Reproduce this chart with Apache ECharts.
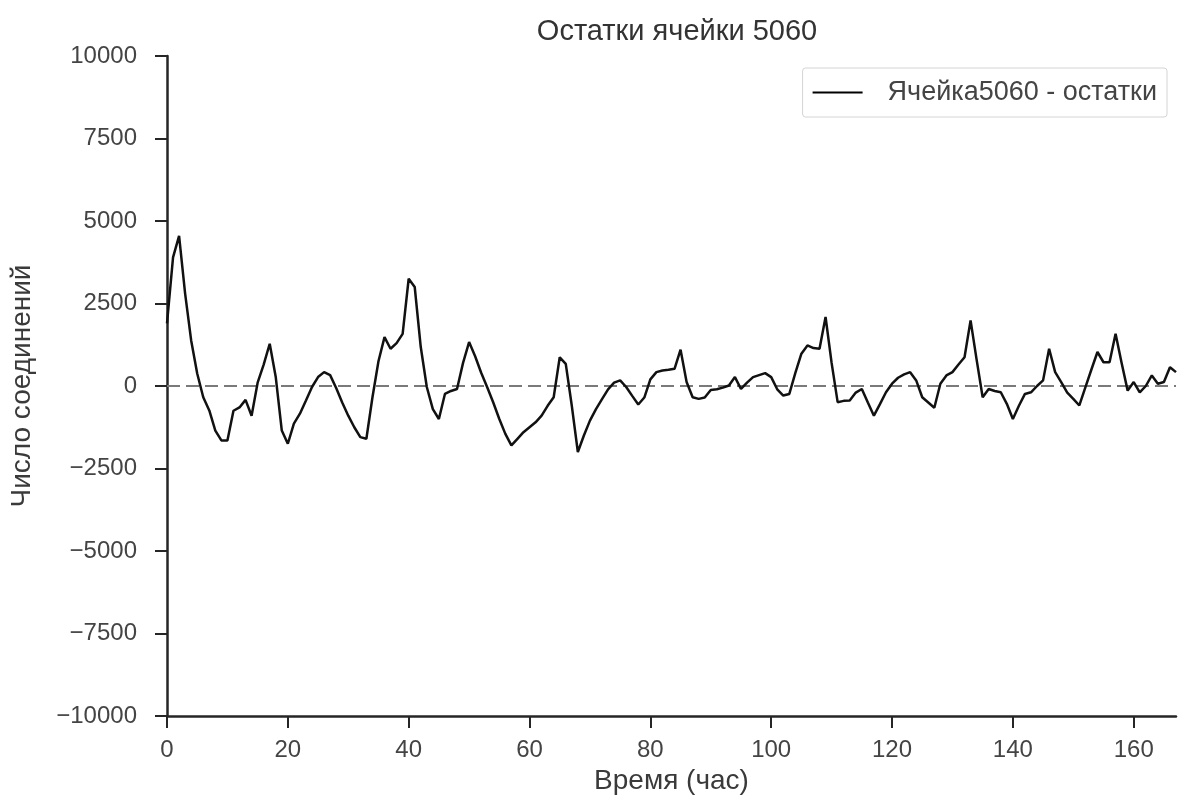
<!DOCTYPE html>
<html>
<head>
<meta charset="utf-8">
<script src="https://cdn.jsdelivr.net/npm/echarts@6/dist/echarts.min.js"></script>
<style>html,body{margin:0;padding:0;background:#fff;}#c{width:1184px;height:805px;}</style>
</head>
<body>
<div id="c"></div>
<script>
const titleText = 'Остатки ячейки 5060';
const seriesName = 'Ячейка5060 - остатки';
const xName = 'Время (час)';
const yName = 'Число соединений';
const xTicks = [0, 20, 40, 60, 80, 100, 120, 140, 160];
const yTicks = [-10000, -7500, -5000, -2500, 0, 2500, 5000, 7500, 10000];
// residuals per hour, 0..167
const residuals = [
  1900, 3900, 4550, 2800, 1380, 380, -340, -740, -1350, -1650,
  -1650, -750, -650, -420, -900, 100, 650, 1280, 270, -1350,
  -1750, -1140, -840, -440, -30, 270, 420, 330, -60, -500,
  -900, -1250, -1550, -1600, -350, 750, 1480, 1130, 1300, 1580,
  3250, 3000, 1180, -30, -700, -1000, -240, -150, -90, 700,
  1330, 900, 400, -40, -500, -1000, -1450, -1800, -1600, -1400,
  -1250, -1100, -900, -600, -340, 870, 670, -600, -2000, -1500,
  -1050, -700, -400, -100, 100, 170, -30, -300, -560, -350,
  200, 420, 470, 490, 520, 1100, 120, -340, -390, -350,
  -120, -100, -50, 15, 270, -90, 100, 270, 330, 390,
  270, -100, -290, -240, 400, 980, 1230, 1150, 1130, 2090,
  700, -490, -450, -440, -200, -90, -500, -900, -550, -190,
  70, 250, 350, 420, 170, -340, -500, -660, 70, 320,
  420, 650, 870, 1990, 800, -340, -90, -150, -190, -540,
  -1000, -600, -240, -190, 0, 170, 1130, 420, 120, -200,
  -390, -590, -40, 500, 1030, 720, 720, 1580, 700, -140,
  120, -190, 0, 320, 70, 120, 570, 420
];
const zeroLine = 0;

const axisColor = '#262626';
const labelColor = '#444444';
const fontFamily = '"Liberation Sans", Arial, sans-serif';

const chart = echarts.init(document.getElementById('c'), null, {renderer: 'canvas'});
chart.setOption({
  animation: false,
  backgroundColor: '#ffffff',
  title: {
    text: titleText,
    left: 672,
    textAlign: 'center',
    top: 12,
    textStyle: {fontFamily, fontSize: 29, fontWeight: 'normal', color: '#333'}
  },
  legend: {
    data: [{name: seriesName, icon: 'rect'}],
    right: 17,
    top: 68,
    orient: 'vertical',
    padding: [11, 10, 11, 10],
    itemWidth: 50,
    itemHeight: 2,
    borderColor: '#d4d4d4',
    borderWidth: 1,
    borderRadius: 3,
    textStyle: {fontFamily, fontSize: 27, color: '#444', padding: [0, 0, 0, 20]}
  },
  grid: {left: 167, right: 8, top: 56, bottom: 89, containLabel: false},
  xAxis: {
    type: 'value',
    min: 0,
    max: 167,
    interval: 20,
    name: xName,
    nameLocation: 'middle',
    nameGap: 40,
    nameTextStyle: {fontFamily, fontSize: 28, color: '#3a3a3a'},
    splitLine: {show: false},
    axisLine: {show: true, onZero: false, lineStyle: {color: axisColor, width: 2.5}},
    axisTick: {show: true, length: 12, customValues: xTicks, lineStyle: {color: axisColor, width: 2}},
    axisLabel: {
      fontFamily, fontSize: 24, color: labelColor, margin: 22,
      customValues: xTicks,
      formatter: v => String(v)
    }
  },
  yAxis: {
    type: 'value',
    min: -10000,
    max: 10000,
    interval: 2500,
    name: yName,
    nameLocation: 'middle',
    nameGap: 131,
    nameRotate: 90,
    nameTextStyle: {fontFamily, fontSize: 28, color: '#3a3a3a'},
    splitLine: {show: false},
    axisLine: {show: true, lineStyle: {color: axisColor, width: 2.5}},
    axisTick: {show: true, length: 12, lineStyle: {color: axisColor, width: 2}},
    axisLabel: {
      fontFamily, fontSize: 24, color: labelColor, margin: 30,
      formatter: v => yTicks.includes(v) ? String(v).replace('-', '\u2212') : ''
    }
  },
  series: [{
    name: seriesName,
    type: 'line',
    data: residuals.map((v, i) => [i, v]),
    showSymbol: false,
    symbol: 'none',
    lineStyle: {color: '#111111', width: 2.5},
    itemStyle: {color: '#000000'},
    z: 3,
    markLine: {
      silent: true,
      symbol: ['none', 'none'],
      label: {show: false},
      lineStyle: {color: '#7a7a7a', type: [13, 6], width: 2},
      data: [{yAxis: zeroLine}],
      z: 2
    }
  }]
});
</script>
</body>
</html>
